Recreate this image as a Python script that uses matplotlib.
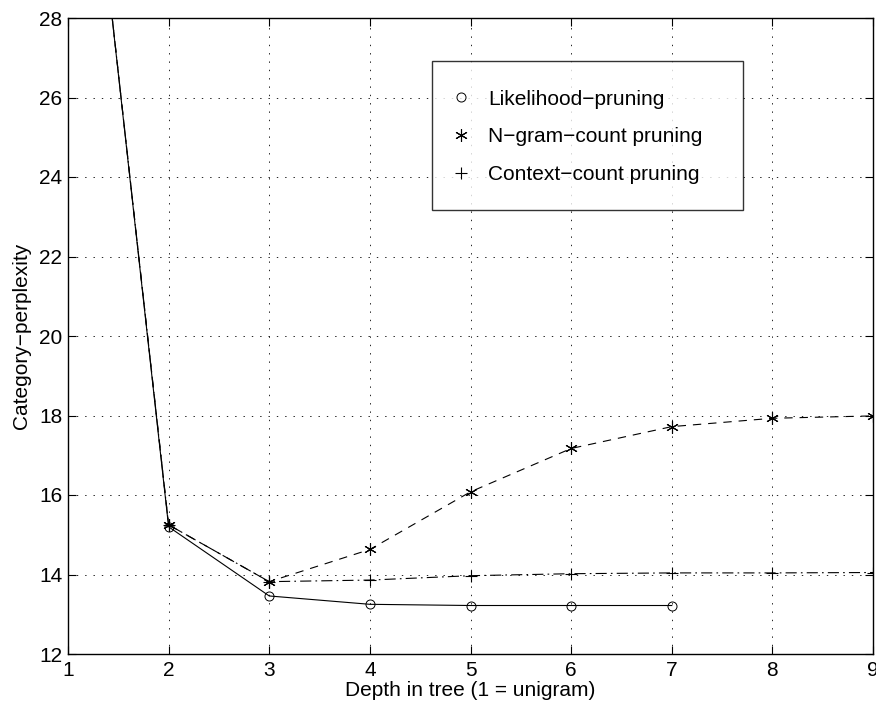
import numpy as np
import matplotlib
matplotlib.use("Agg")
import matplotlib.pyplot as plt
import matplotlib.transforms as mtransforms
from matplotlib.lines import Line2D

plt.rcParams["font.family"] = ["Liberation Sans", "DejaVu Sans"]
plt.rcParams["font.size"] = 15
plt.rcParams["lines.scale_dashes"] = False

# perplexity by tree depth for the three pruning criteria
depth_lik = [1, 2, 3, 4, 5, 6, 7]
ppl_lik = [38.0, 15.2, 13.46, 13.25, 13.22, 13.22, 13.22]

depth_ngram = [1, 2, 3, 4, 5, 6, 7, 8, 9]
ppl_ngram = [38.0, 15.25, 13.82, 14.63, 16.08, 17.17, 17.72, 17.93, 17.99]

depth_ctx = [1, 2, 3, 4, 5, 6, 7, 8, 9]
ppl_ctx = [38.0, 15.25, 13.82, 13.86, 13.97, 14.02, 14.04, 14.04, 14.05]

labels = ["Likelihood\u2212pruning", "N\u2212gram\u2212count pruning", "Context\u2212count pruning"]
x_ticks = list(range(1, 10))
y_ticks = list(range(12, 29, 2))

asterisk = (6, 2, 0)
lik_style = dict(marker="o", mfc="none", mec="black", ms=6.5, mew=0.7)
ngram_style = dict(marker=asterisk, mec="black", ms=9, mew=0.8)
ctx_style = dict(marker="+", mec="black", ms=9, mew=0.8)

fig = plt.figure(figsize=(8.76, 7.09), dpi=100)
ax = fig.add_axes([68 / 876, 1 - 654 / 709, 805 / 876, 636 / 709])

ax.plot(depth_lik, ppl_lik, color="black", lw=0.8, ls="-", **lik_style)
ax.plot(depth_ngram, ppl_ngram, color="black", lw=0.8, ls=(0, (6, 5)), **ngram_style)
ax.plot(depth_ctx, ppl_ctx, color="black", lw=0.8, ls=(0, (8, 3, 1.2, 3)), **ctx_style)

ax.set_xlim(1, 9)
ax.set_ylim(12, 28)
ax.set_xticks(x_ticks)
ax.set_yticks(y_ticks)
ax.grid(True, color="black", ls=(0, (1, 5)), lw=0.6)
ax.tick_params(direction="in", length=6, width=0.8, top=True, right=True,
               labelsize=15)
ax.tick_params(axis="x", pad=5)
ax.tick_params(axis="y", pad=4)
for s in ax.spines.values():
    s.set_linewidth(1.0)

ax.set_xlabel("Depth in tree (1 = unigram)", fontsize=15, labelpad=1)
ax.set_ylabel("Category\u2212perplexity", fontsize=15, labelpad=6)

handles = [
    Line2D([], [], ls="none", **lik_style),
    Line2D([], [], ls="none", **ngram_style),
    Line2D([], [], ls="none", **ctx_style),
]
leg = ax.legend(handles, labels, loc="upper left", mode="expand",
                bbox_to_anchor=(432 / 876, 1 - 207 / 709, 311 / 876, 146 / 709),
                bbox_transform=fig.transFigure,
                fontsize=15, frameon=True, fancybox=False, edgecolor="black",
                borderpad=1.0, labelspacing=0.27, handlelength=0.8, handleheight=2.0,
                handletextpad=0.9, borderaxespad=0)
leg.get_frame().set_linewidth(1.0)

# centre the legend markers on the label text
nudge = mtransforms.ScaledTranslation(0, -4 / 100, fig.dpi_scale_trans)
for h in leg.legend_handles:
    h.set_transform(h.get_transform() + nudge)

fig.savefig("out.png", dpi=100)
